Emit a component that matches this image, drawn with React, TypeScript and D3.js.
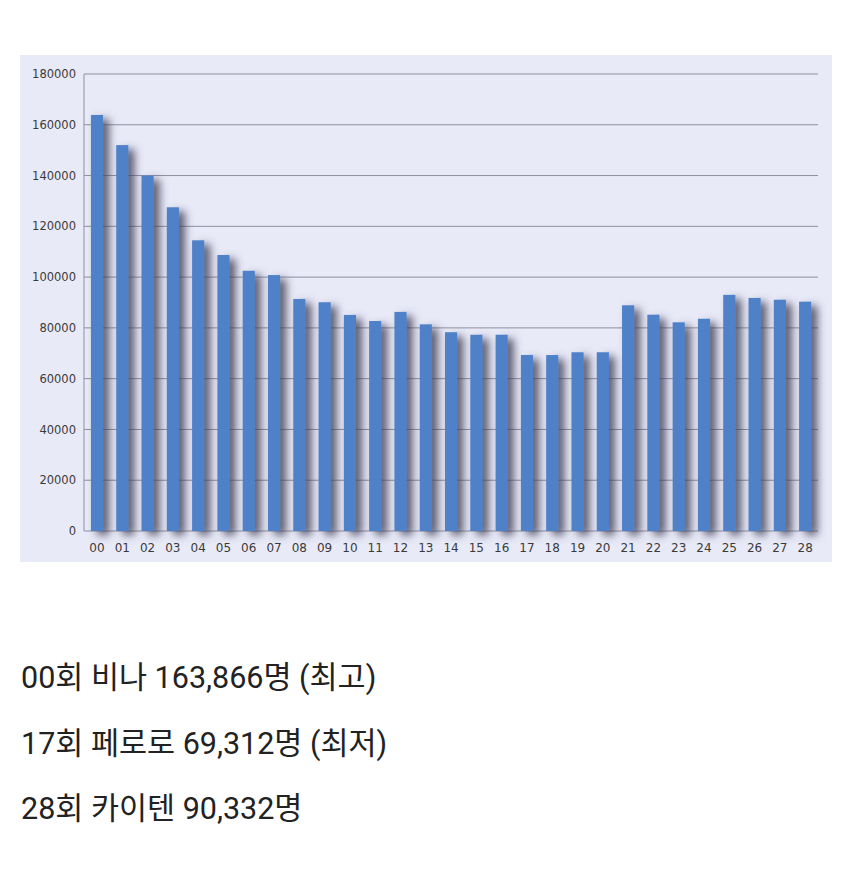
import React from "react";
import * as d3 from "d3";

const categories = ["00","01","02","03","04","05","06","07","08","09","10","11","12","13","14","15","16","17","18","19","20","21","22","23","24","25","26","27","28"];
const viewers = [163866,152000,140000,127500,114500,108700,102500,100800,91400,90100,85100,82700,86300,81400,78300,77300,77300,69312,69300,70400,70400,88900,85200,82200,83600,93000,91800,91100,90332];
const yTicks = [0,20000,40000,60000,80000,100000,120000,140000,160000,180000];
const notes = ["00회 비나 163,866명 (최고)", "17회 페로로 69,312명 (최저)", "28회 카이텐 90,332명"];

export default function App() {
  const W = 850, H = 884;
  const x = d3.scaleBand<string>().domain(categories).range([84.35, 817.8]).paddingInner(0.52).paddingOuter(0.26);
  const y = d3.scaleLinear().domain([0, 180000]).range([531, 74]);
  const font = "'DejaVu Sans', Verdana, sans-serif";
  return (
    <svg width={W} height={H} style={{ position: "absolute", left: 0, top: 0, background: "#fff" }}>
      <defs>
        <filter id="shadow" x="-50%" y="-10%" width="250%" height="130%">
          <feDropShadow dx="6" dy="4" stdDeviation="4" floodColor="#404155" floodOpacity="0.85" />
        </filter>
      </defs>
      <rect x={20} y={55} width={812} height={507} fill="#e9eaf8" />
      {yTicks.map((t) => (
        <g key={t}>
          <line x1={84} x2={818} y1={y(t)} y2={y(t)} stroke="#8d8fa0" strokeWidth={1} />
          <text x={76} y={y(t)} dy="0.36em" textAnchor="end" fontSize={11.5} fill="#3a3a3a" fontFamily={font}>{t}</text>
        </g>
      ))}
      <line x1={84} x2={84} y1={74} y2={531} stroke="#8d8fa0" strokeWidth={1} />
      <g filter="url(#shadow)">
        {categories.map((c, i) => (
          <rect key={c} x={x(c)} y={y(viewers[i])} width={x.bandwidth()} height={y(0) - y(viewers[i])} fill="#4f81c8" />
        ))}
      </g>
      {categories.map((c) => (
        <text key={c} x={(x(c) as number) + x.bandwidth() / 2} y={551.5} textAnchor="middle" fontSize={12} fill="#3a3a3a" fontFamily={font}>{c}</text>
      ))}
      {notes.map((n, i) => (
        <text key={i} x={21} y={688 + i * 65.5} fontSize={30.5} fill="#222" fontFamily="Roboto, 'Noto Sans CJK KR', sans-serif">{n}</text>
      ))}
    </svg>
  );
}
